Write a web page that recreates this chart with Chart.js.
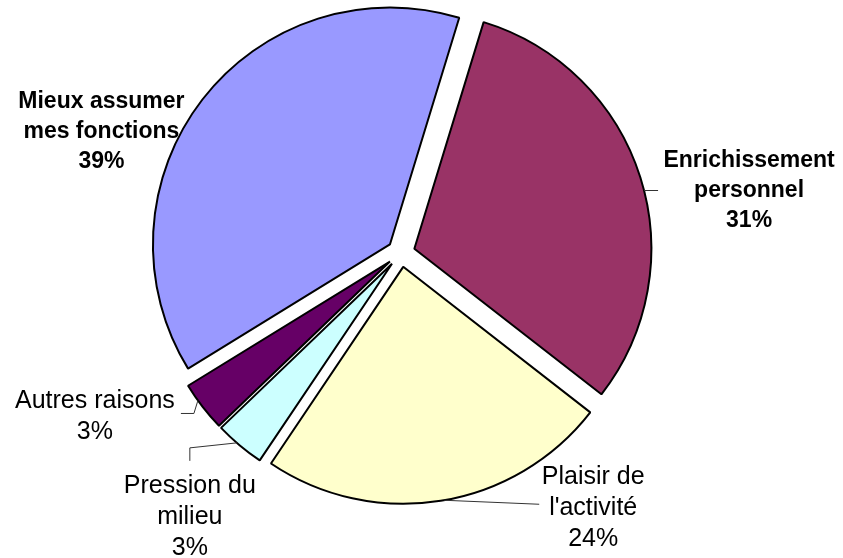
<!DOCTYPE html>
<html>
<head>
<meta charset="utf-8">
<script src="https://cdn.jsdelivr.net/npm/chart.js@4"></script>
<style>
  html, body { margin: 0; padding: 0; background: #fff; }
  #wrap { width: 843px; height: 558px; position: relative; }
</style>
</head>
<body>
<div id="wrap"><canvas id="chart"></canvas></div>
<script>
// slices in drawing order (clockwise from the top)
const categories = [
    ["Enrichissement", "personnel"],
    ["Plaisir de", "l'activité"],
    ["Pression du", "milieu"],
    ["Autres raisons"],
    ["Mieux assumer", "mes fonctions"],
];
// shares in %, labels show them rounded
const shares = [30.8, 23.9, 3.4, 3.4, 38.5];
const sliceColors = ["#993366", "#FFFFCC", "#CCFFFF", "#660066", "#9999FF"];

const EXPLODE = 14;

// label placement: anchor point along the slice edge, leader path and text block offset from that anchor
const labelStyles = [
    { bold: true, frac: 0.53, path: [[14, 0]], text: [105, 0] },
    { bold: false, frac: 0.49, path: [[95, 4]], text: [149, 8] },
    { bold: false, frac: 0.57, path: [[-47, 5], [-47, 18]], text: [-47, 74] },
    { bold: false, frac: 0.65, path: [[-4, 13], [-17, 13]], text: [-103, 16] },
    { bold: true, frac: 0.5, path: [], text: [-101, 32] },
];

// move each slice out along its middle angle, keeping its size
const explodePlugin = {
    id: "explode",
    beforeDatasetDraw(chart, args) {
        const ctx = chart.ctx;
        args.meta.data.forEach((arc) => {
            const mid = (arc.startAngle + arc.endAngle) / 2;
            ctx.save();
            ctx.translate(Math.cos(mid) * EXPLODE, Math.sin(mid) * EXPLODE);
            arc.draw(ctx);
            ctx.restore();
        });
        return false;
    },
};

const labelPlugin = {
    id: "pieLabels",
    afterDatasetsDraw(chart) {
        const ctx = chart.ctx;
        const meta = chart.getDatasetMeta(0);
        meta.data.forEach((arc, i) => {
            const st = labelStyles[i];
            const mid = (arc.startAngle + arc.endAngle) / 2;
            const cx = arc.x + Math.cos(mid) * EXPLODE;
            const cy = arc.y + Math.sin(mid) * EXPLODE;
            const a = arc.startAngle + st.frac * (arc.endAngle - arc.startAngle);
            const ax = cx + Math.cos(a) * arc.outerRadius;
            const ay = cy + Math.sin(a) * arc.outerRadius;

            ctx.save();
            if (st.path.length) {
                ctx.strokeStyle = "#333";
                ctx.lineWidth = 1;
                ctx.beginPath();
                ctx.moveTo(ax, ay);
                st.path.forEach((p) => ctx.lineTo(ax + p[0], ay + p[1]));
                ctx.stroke();
            }
            const lines = categories[i].concat([Math.round(shares[i]) + "%"]);
            const lh = st.bold ? 30 : 31;
            ctx.font = st.bold ? "bold 23px 'Liberation Sans', Arial, sans-serif" : "25px 'Liberation Sans', Arial, sans-serif";
            ctx.fillStyle = "#000";
            ctx.textAlign = "center";
            ctx.textBaseline = "middle";
            const tx = ax + st.text[0];
            const ty = ay + st.text[1] - (lh * (lines.length - 1)) / 2;
            lines.forEach((l, k) => ctx.fillText(l, tx, ty + k * lh));
            ctx.restore();
        });
    },
};

new Chart(document.getElementById("chart"), {
    type: "pie",
    data: {
        labels: categories,
        datasets: [
            {
                data: shares,
                backgroundColor: sliceColors,
                borderColor: "#000",
                borderWidth: 2,
                hoverOffset: 0,
                offset: 0,
            },
        ],
    },
    options: {
        responsive: true,
        maintainAspectRatio: false,
        animation: false,
        events: [],
        rotation: 17,
        layout: {
            padding: { top: 15, bottom: 67, left: 0, right: 41 },
        },
        plugins: {
            legend: { display: false },
            tooltip: { enabled: false },
        },
    },
    plugins: [explodePlugin, labelPlugin],
});
</script>
</body>
</html>
